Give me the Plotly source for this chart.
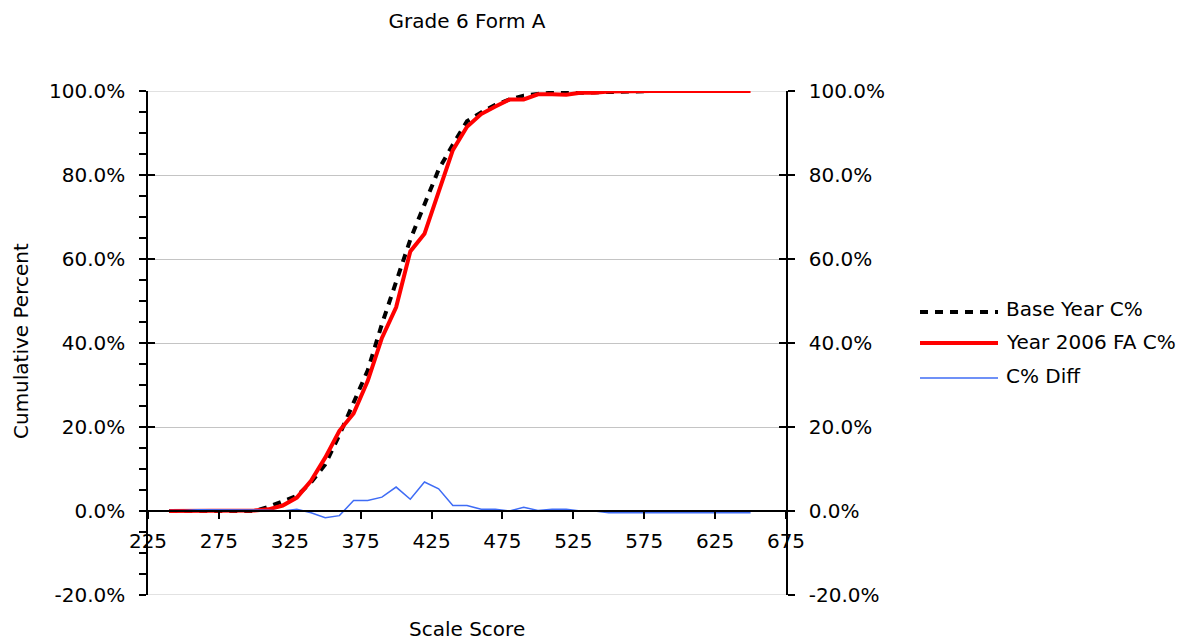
import plotly.graph_objects as go

# ---------------- data ----------------
scale_scores = [240, 250, 260, 270, 280, 290, 300, 310, 320, 330, 340, 350, 360, 370,
                380, 390, 400, 410, 420, 430, 440, 450, 460, 470, 480, 490, 500, 510,
                520, 530, 540, 550, 560, 570, 580, 590, 600, 610, 620, 630, 640, 650]

base_year_c = [0.0, 0.0, 0.0, 0.0, 0.0, 0.0, 0.0, 1.0, 2.2, 3.6, 6.8, 11.1, 18.1, 25.7,
               33.5, 44.5, 54.2, 64.6, 73.0, 81.3, 87.2, 92.8, 94.9, 96.7, 98.0, 98.9, 99.3, 99.6,
               99.5, 99.6, 99.6, 99.9, 100, 100, 100, 100, 100, 100, 100, 100, 100, 100]

year2006_c = [0.0, 0.0, 0.0, 0.0, 0.0, 0.0, 0.1, 0.4, 1.3, 3.2, 7.2, 12.7, 19.1, 23.2,
              31.0, 41.2, 48.5, 61.8, 66.0, 76.0, 85.9, 91.5, 94.5, 96.3, 98.0, 98.0, 99.2, 99.2,
              99.1, 99.6, 99.6, 99.9, 100, 100, 100, 100, 100, 100, 100, 100, 100, 100]

diff_c = [0.1, 0.1, 0.3, 0.3, 0.3, 0.3, 0.3, 0.2, 0.0, 0.4, -0.4, -1.6, -1.1, 2.5,
          2.5, 3.3, 5.7, 2.8, 6.9, 5.3, 1.3, 1.3, 0.4, 0.4, 0.0, 0.9, 0.1, 0.4,
          0.4, 0.0, 0.0, -0.4, -0.4, -0.4, -0.4, -0.4, -0.4, -0.4, -0.4, -0.4, -0.4, -0.4]

series_names = ["Base Year C%", "Year 2006 FA C%", "C% Diff"]
y_ticks = [-20, 0, 20, 40, 60, 80, 100]
x_ticks = [225, 275, 325, 375, 425, 475, 525, 575, 625, 675]

# ---------------- styling / layout ----------------
FONT = "DejaVu Sans"
FS = 20
BLACK = "#000000"
RED = "#FF0000"
BLUE = "#3F6CF5"
GRID = "#C4C4C4"
DASH = "8px,7px"

OFF = 8                      # page body margin of the html page
W, H = 1198 - OFF, 642 - OFF
PL, PR, PT, PB = 148 - OFF, 786 - OFF, 91 - OFF, 595 - OFF   # plot area (figure px)


def px_x(wx):
    """window x pixel -> paper x"""
    return (wx - OFF - PL) / (PR - PL)


def px_y(wy):
    """window y pixel -> paper y"""
    return (PB - (wy - OFF)) / (PB - PT)


fig = go.Figure()
fig.add_trace(go.Scatter(x=scale_scores, y=base_year_c, mode="lines", name=series_names[0],
                         line=dict(color=BLACK, width=4, dash=DASH), showlegend=False))
fig.add_trace(go.Scatter(x=scale_scores, y=year2006_c, mode="lines", name=series_names[1],
                         line=dict(color=RED, width=4), showlegend=False))
fig.add_trace(go.Scatter(x=scale_scores, y=diff_c, mode="lines", name=series_names[2],
                         line=dict(color=BLUE, width=1.5), showlegend=False))
for ax in ["y2", "y3", "y4"]:
    fig.add_trace(go.Scatter(x=[], y=[], yaxis=ax, showlegend=False, hoverinfo="skip"))

yrange = [-20, 100]
tickfont = dict(family=FONT, size=FS, color=BLACK)

fig.update_layout(
    width=W, height=H,
    margin=dict(l=PL, r=W - PR, t=PT, b=H - PB),
    paper_bgcolor="white", plot_bgcolor="white",
    font=dict(family=FONT, size=FS, color=BLACK),
    title=dict(text="Grade 6 Form A", x=0.5, xref="paper", xanchor="center",
               y=1 - (21 - OFF) / H, yref="container", yanchor="middle",
               font=dict(family=FONT, size=FS, color=BLACK)),
    xaxis=dict(range=[225, 675], tickmode="array", tickvals=x_ticks,
               ticktext=[str(v) for v in x_ticks],
               anchor="free", position=20 / 120,
               showline=True, linecolor=BLACK, linewidth=1.5,
               ticks="outside", ticklen=7, tickcolor=BLACK, tickwidth=1.5,
               ticklabelstandoff=5,
               showgrid=False, zeroline=False, tickfont=tickfont),
    yaxis=dict(range=yrange, tickmode="array", tickvals=y_ticks,
               ticktext=[f"{v:.1f}%" for v in y_ticks],
               showline=True, linecolor=BLACK, linewidth=1.5,
               ticks="outside", ticklen=7, tickcolor=BLACK, tickwidth=1.5,
               minor=dict(dtick=5, tick0=0, ticks="outside", ticklen=7,
                          tickcolor=BLACK, tickwidth=1.5, showgrid=False),
               ticklabelstandoff=10,
               showgrid=True, gridcolor=GRID, gridwidth=1,
               zeroline=False, tickfont=tickfont),
    yaxis2=dict(range=yrange, overlaying="y", side="right", anchor="x",
                tickmode="array", tickvals=y_ticks,
                ticktext=[f"{v:.1f}%" for v in y_ticks],
                showline=True, linecolor=BLACK, linewidth=1.5,
                ticks="outside", ticklen=7, tickcolor=BLACK, tickwidth=1.5,
                ticklabelstandoff=10,
                showgrid=False, zeroline=False, tickfont=tickfont),
    yaxis3=dict(range=yrange, overlaying="y", side="left", anchor="x",
                tickmode="array", tickvals=y_ticks, showticklabels=False,
                ticks="inside", ticklen=7, tickcolor=BLACK, tickwidth=1.5,
                showline=False, showgrid=False, zeroline=False),
    yaxis4=dict(range=yrange, overlaying="y", side="right", anchor="x",
                tickmode="array", tickvals=y_ticks, showticklabels=False,
                ticks="inside", ticklen=7, tickcolor=BLACK, tickwidth=1.5,
                showline=False, showgrid=False, zeroline=False),
)

# axis titles
fig.add_annotation(text="Cumulative Percent", xref="paper", yref="paper",
                   x=px_x(21), y=px_y(341), textangle=-90,
                   showarrow=False, xanchor="center", yanchor="middle",
                   font=dict(family=FONT, size=FS, color=BLACK))
fig.add_annotation(text="Scale Score", xref="paper", yref="paper",
                   x=0.5, y=px_y(629),
                   showarrow=False, xanchor="center", yanchor="middle",
                   font=dict(family=FONT, size=FS, color=BLACK))

# top / bottom borders of the grid (100% and -20%)
for yv in [yrange[0], yrange[1]]:
    fig.add_shape(type="line", xref="paper", yref="y", x0=0, x1=1, y0=yv, y1=yv,
                  line=dict(color=GRID, width=1), layer="below")

# custom legend (long line samples as in the reference)
legend_styles = [dict(color=BLACK, width=4, dash=DASH),
                 dict(color=RED, width=4),
                 dict(color=BLUE, width=1.5)]
legend_line_y = [312, 343, 378]
legend_text_y = [309, 342, 376]
lx0, lx1, tx = 920, 998, 1004
for name, st, ly, ty in zip(series_names, legend_styles, legend_line_y, legend_text_y):
    fig.add_shape(type="line", xref="paper", yref="paper",
                  x0=px_x(lx0), x1=px_x(lx1), y0=px_y(ly), y1=px_y(ly), line=st)
    fig.add_annotation(text=name, xref="paper", yref="paper",
                       x=px_x(tx), y=px_y(ty),
                       showarrow=False, xanchor="left", yanchor="middle",
                       font=dict(family=FONT, size=FS, color=BLACK))

fig.write_html("out.html")
